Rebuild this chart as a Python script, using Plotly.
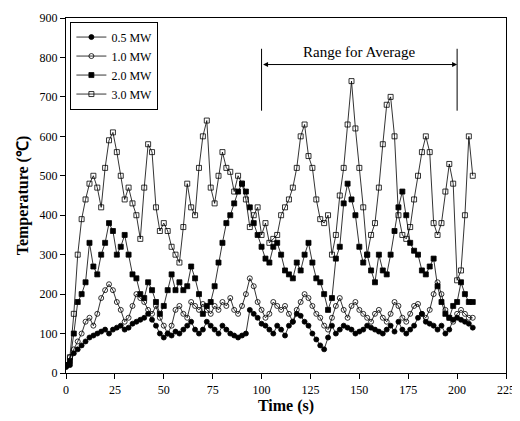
import plotly.graph_objects as go

time = list(range(0, 209, 2))

mw05 = [15,20,50,60,70,80,90,95,100,105,110,100,110,115,120,110,115,125,130,135,140,150,135,120,100,90,100,95,105,100,
        110,120,130,110,100,110,130,120,110,100,120,110,100,95,90,95,100,160,150,140,125,120,110,100,120,110,95,120,130,150,
        145,130,120,100,85,70,60,90,120,100,110,120,115,110,100,105,110,120,115,110,105,100,110,120,105,130,110,100,110,120,
        140,150,130,125,120,110,120,100,110,135,140,135,130,125,115]
mw10 = [20,40,60,80,100,130,140,120,150,190,210,225,210,180,160,130,140,170,200,190,180,160,150,170,140,120,100,120,160,170,
        150,140,180,170,160,175,160,150,170,160,180,170,190,160,150,170,200,240,220,180,160,140,150,180,170,160,170,150,130,160,
        180,200,190,170,150,140,120,110,140,170,190,160,140,170,180,160,150,140,130,150,160,140,130,150,180,170,140,130,150,170,
        175,150,140,160,200,230,200,160,140,130,150,160,150,140,140]
mw20 = [20,30,100,180,200,230,330,270,250,300,330,380,360,300,320,350,300,250,240,200,190,230,210,180,150,170,210,250,210,230,
        210,220,270,240,200,150,170,180,220,280,330,380,400,430,460,480,460,420,380,350,320,290,280,320,330,300,260,250,240,280,
        260,300,330,280,240,230,200,160,190,290,320,430,480,440,400,320,280,300,260,230,300,260,250,300,360,420,460,400,330,310,
        300,260,250,270,290,220,180,150,140,170,180,230,200,180,180]
mw30 = [20,40,150,300,390,440,480,500,470,420,520,590,610,560,500,440,470,430,400,340,470,580,560,420,360,380,360,320,300,280,
        370,480,420,400,520,600,640,470,430,500,560,520,510,460,500,480,440,370,400,420,350,380,330,340,350,400,420,440,470,520,
        600,630,550,520,440,390,380,400,300,350,450,520,630,740,620,520,420,300,350,380,470,580,680,700,600,400,350,340,370,440,
        500,560,600,560,380,350,380,460,530,480,235,260,400,600,500]

series = [("0.5 MW", mw05, "circle"), ("1.0 MW", mw10, "circle-open"),
          ("2.0 MW", mw20, "square"), ("3.0 MW", mw30, "square-open")]

font = dict(family="Liberation Serif", size=12, color="black")
fig = go.Figure()
for name, vals, sym in series:
    fig.add_trace(go.Scatter(x=time, y=vals, name=name, mode="lines+markers",
                             line=dict(color="black", width=0.8),
                             marker=dict(symbol=sym, size=5, color="black", line=dict(width=0.8, color="black"))))

axis = dict(showline=True, linecolor="black", linewidth=1.2, mirror=True, ticks="outside",
            tickcolor="black", ticklen=5, showgrid=False, zeroline=False, tickfont=font)
fig.update_xaxes(range=[0, 225], dtick=25,
                 title=dict(text="<b>Time (s)</b>", standoff=4, font=dict(family="Liberation Serif", size=16)), **axis)
fig.update_yaxes(range=[0, 900], dtick=100,
                 title=dict(text="<b>Temperature (℃)</b>", standoff=6, font=dict(family="Liberation Serif", size=16)), **axis)

fig.add_annotation(x=200, y=782, ax=100, ay=782, xref="x", yref="y", axref="x", ayref="y",
                   showarrow=True, arrowhead=2, arrowside="end+start", arrowwidth=1, arrowcolor="black", text="")
fig.add_shape(type="line", x0=100, x1=100, y0=665, y1=822, line=dict(color="black", width=1))
fig.add_shape(type="line", x0=200, x1=200, y0=665, y1=822, line=dict(color="black", width=1))
fig.add_annotation(x=150, y=815, text="Range for Average", showarrow=False,
                   font=dict(family="Liberation Serif", size=15, color="black"))

fig.update_layout(width=520, height=421, margin=dict(l=58, r=22, t=10, b=56, autoexpand=False),
                  plot_bgcolor="white", paper_bgcolor="white", font=font,
                  legend=dict(x=0.01, y=0.99, bordercolor="black", borderwidth=1, bgcolor="white",
                              font=dict(family="Liberation Serif", size=12), tracegroupgap=0))
fig.write_html("out.html")
